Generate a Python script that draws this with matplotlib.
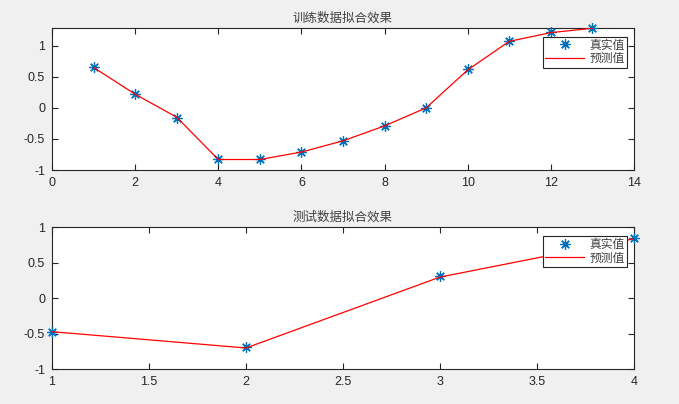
import numpy as np
import matplotlib
matplotlib.use('Agg')
import matplotlib.pyplot as plt

plt.rcParams['font.family'] = ['Liberation Sans', 'Noto Sans CJK SC']
plt.rcParams['axes.unicode_minus'] = False

# training data
train_x = [1, 2, 3, 4, 5, 6, 7, 8, 9, 10, 11, 12, 13]
train_true = [0.66, 0.22, -0.16, -0.82, -0.82, -0.71, -0.54, -0.29, 0.0, 0.62, 1.075, 1.225, 1.28]
train_pred = [0.65, 0.22, -0.15, -0.83, -0.83, -0.71, -0.53, -0.29, 0.0, 0.61, 1.07, 1.21, 1.28]

# test data
test_x = [1, 2, 3, 4]
test_true = [-0.48, -0.69, 0.31, 0.855]
test_pred = [-0.47, -0.70, 0.30, 0.84]

titles = ['训练数据拟合效果', '测试数据拟合效果']
labels = ['真实值', '预测值']

bg = '#f0f0f0'
ink = '#262626'
blue = '#0072bd'

fig = plt.figure(figsize=(6.79, 4.04), dpi=100, facecolor=bg)
ax1 = fig.add_axes([0.0766, 0.579, 0.857, 0.351])
ax2 = fig.add_axes([0.0766, 0.086, 0.857, 0.351])

star = (8, 2, 0)

def style(ax, title):
    ax.set_facecolor('white')
    for s in ax.spines.values():
        s.set_color(ink)
        s.set_linewidth(0.8)
    ax.tick_params(direction='in', length=4, width=0.8, colors=ink, labelsize=9,
                   top=True, right=True, pad=5)
    ax.set_title(title, fontsize=9, color='#404040', pad=5)

ax1.plot(train_x, train_true, linestyle='none', marker=star, ms=7.5, mew=0.9,
         color=blue, label=labels[0], clip_on=False, zorder=3)
ax1.plot(train_x, train_pred, color='red', lw=0.9, label=labels[1], zorder=4)
ax1.set_xlim(0, 14)
ax1.set_ylim(-1, 1.28)
ax1.set_xticks(np.arange(0, 15, 2))
ax1.set_yticks([-1, -0.5, 0, 0.5, 1])
ax1.set_yticklabels(['-1', '-0.5', '0', '0.5', '1'])
style(ax1, titles[0])

ax2.plot(test_x, test_true, linestyle='none', marker=star, ms=7.5, mew=0.9,
         color=blue, label=labels[0], clip_on=False, zorder=3)
ax2.plot(test_x, test_pred, color='red', lw=0.9, label=labels[1], zorder=4)
ax2.set_xlim(1, 4)
ax2.set_ylim(-1, 1)
ax2.set_xticks([1, 1.5, 2, 2.5, 3, 3.5, 4])
ax2.set_xticklabels(['1', '1.5', '2', '2.5', '3', '3.5', '4'])
ax2.set_yticks([-1, -0.5, 0, 0.5, 1])
ax2.set_yticklabels(['-1', '-0.5', '0', '0.5', '1'])
style(ax2, titles[1])

for ax in (ax1, ax2):
    leg = ax.legend(loc='upper right', bbox_to_anchor=(0.988, 0.937), fontsize=8.5,
                    fancybox=False, framealpha=1, edgecolor=ink, handlelength=3.3,
                    borderpad=0.2, labelspacing=0.15, handletextpad=0.45,
                    borderaxespad=0)
    leg.get_frame().set_linewidth(0.8)
    leg.set_zorder(5)
    for t in leg.get_texts():
        t.set_color('#404040')

fig.savefig('out.png', dpi=100, facecolor=bg)
